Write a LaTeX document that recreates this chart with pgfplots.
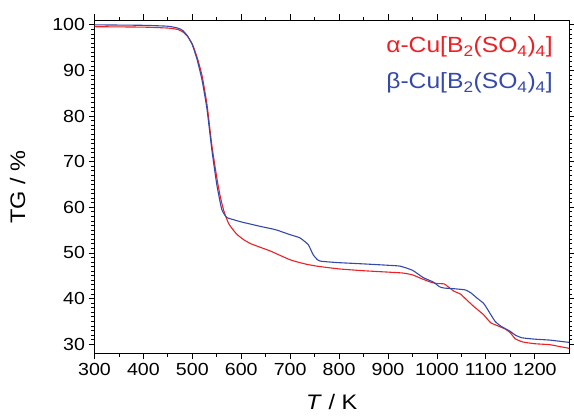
\documentclass[border=0pt]{standalone}
\usepackage{fontspec}
\setmainfont{Liberation Sans}[FakeStretch=1.12]
\usepackage{pgfplots}
\pgfplotsset{compat=1.18}
\usetikzlibrary{calc}
\definecolor{tgred}{RGB}{237,32,36}
\definecolor{tgblue}{RGB}{52,74,170}

\begin{document}
\begin{tikzpicture}
\begin{axis}[
    name=ax,
    scale only axis,
    width=474.5pt, height=333pt,
    xmin=300, xmax=1270,
    ymin=28, ymax=101,
    xtick={300,400,...,1200},
    ytick={30,40,...,100},
    minor x tick num=1,
    minor y tick num=9,
    tick align=outside,
    tick pos=both,
    xticklabel pos=bottom,
    yticklabel pos=left,
    major tick length=6pt,
    minor tick length=3.2pt,
    every tick/.style={black, line width=0.8pt},
    axis line style={line width=0.9pt},
    /pgf/number format/assume math mode=true,
    /pgf/number format/1000 sep={},
    tick label style={font=\fontsize{17.5}{20}\selectfont},
    xlabel={\textit{T} / K},
    ylabel={TG / \%},
    label style={font=\fontsize{21}{24}\selectfont},
    xlabel style={yshift=-12pt},
    ylabel style={yshift=20pt},
]
% alpha
\addplot[tgred, line width=1.1pt, smooth, tension=0.3] coordinates {
 (300,99.6) (400,99.5) (450,99.3) (470,99.0) (480,98.5) (490,97.5)
 (500,95.8) (510,92.8) (520,88.8) (530,82.5) (540,73.5) (550,66.5)
 (557,62.4) (565,59.0) (575,56.3) (590,54.2) (605,52.9) (620,52.0)
 (645,51.0) (660,50.4) (700,48.5) (730,47.6) (755,47.1) (800,46.5)
 (850,46.1) (900,45.8) (930,45.6) (950,45.2) (970,44.3) (990,43.5)
 (1000,43.3) (1015,43.2) (1025,42.4) (1035,41.6) (1048,41.0) (1060,39.8)
 (1075,38.3) (1095,36.5) (1110,34.7) (1125,34.0) (1140,33.3) (1150,32.5)
 (1160,31.2) (1175,30.5) (1200,30.1) (1230,29.9) (1250,29.5) (1270,29.1)
};
% beta
\addplot[tgblue, line width=1.1pt, smooth, tension=0.3] coordinates {
 (300,100.0) (400,99.9) (450,99.7) (470,99.3) (480,98.8) (490,97.6)
 (500,95.6) (510,92.3) (520,87.8) (530,81.5) (540,72.5) (550,65.0)
 (560,59.6) (570,57.8) (584,57.3) (600,56.8) (640,55.8) (670,55.1)
 (700,54.0) (720,53.3) (737,51.8) (747,49.6) (755,48.6) (762,48.2)
 (795,47.9) (850,47.6) (900,47.3) (925,47.1) (950,46.2) (972,44.6)
 (993,43.6) (1005,42.6) (1015,42.3) (1030,42.2) (1058,41.9) (1070,41.2)
 (1082,40.1) (1095,39.0) (1102,37.9) (1110,36.5) (1119,35.0) (1130,34.0)
 (1150,32.8) (1160,32.0) (1174,31.4) (1200,31.1) (1230,30.9) (1270,30.4)
};
\node[anchor=east, text=tgred, font=\fontsize{22}{24}\selectfont]
  at (rel axis cs:0.973,0.92) {α-Cu[B\textsubscript{2}(SO\textsubscript{4})\textsubscript{4}]};
\node[anchor=east, text=tgblue, font=\fontsize{22}{24}\selectfont]
  at (rel axis cs:0.973,0.812) {β-Cu[B\textsubscript{2}(SO\textsubscript{4})\textsubscript{4}]};
\end{axis}
\pgfresetboundingbox
\path ($(ax.south west)+(-94.5pt,-61.7pt)$) rectangle ($(ax.north east)+(5pt,20.3pt)$);
\end{tikzpicture}
\end{document}
